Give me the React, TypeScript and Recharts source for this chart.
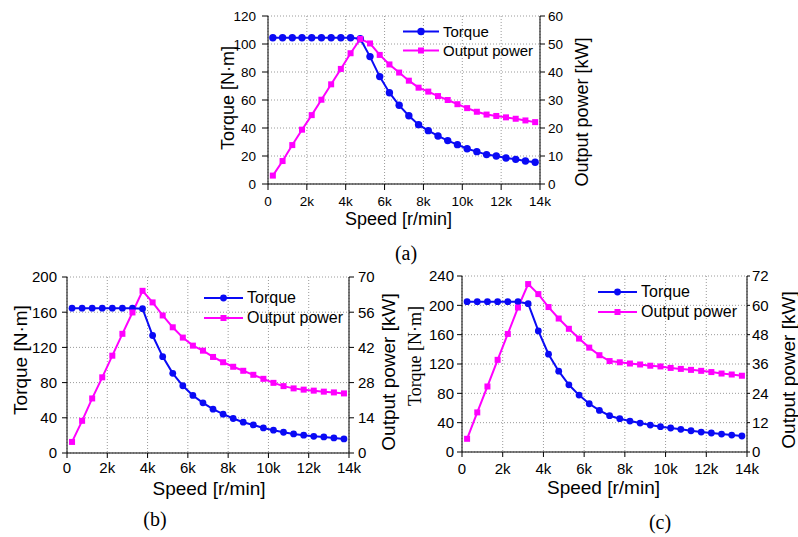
import React from 'react';
import { ComposedChart, Line, XAxis, YAxis, CartesianGrid, Legend } from 'recharts';

const speed = [
	250, 750, 1250, 1750, 2250, 2750, 3250, 3750, 4250, 4750, 5250, 5750, 6250, 6750,
	7250, 7750, 8250, 8750, 9250, 9750, 10250, 10750, 11250, 11750, 12250, 12750, 13250, 13750,
];

const torqueA = [
	104.5, 104.5, 104.5, 104.5, 104.5, 104.5, 104.5, 104.5, 104.5, 103.8, 91, 76.7, 65.2, 56.2,
	48.8, 42.4, 38.1, 34.3, 31, 28.1, 25.2, 23.1, 21, 20, 18.6, 17.6, 16.4, 15.5,
];
const powerA = [
	3, 8.2, 13.9, 19.4, 24.6, 30.1, 35.6, 41.1, 46.7, 51.8, 50.2, 46.1, 42.7, 39.8,
	36.9, 34.4, 33, 31.4, 30, 28.5, 27.1, 25.8, 24.8, 24.3, 23.8, 23.3, 22.7, 22.1,
];

const torqueB = [
	164.6, 164.6, 164.6, 164.6, 164.6, 164.6, 164.6, 164, 133.5, 109.5, 90.5, 76.4, 65.4, 57,
	49.8, 44.1, 39.2, 35, 31.9, 28.5, 25.9, 23.6, 21.7, 20.2, 19, 18.3, 17.1, 16,
];
const powerB = [
	4.4, 12.8, 21.7, 30.1, 38.7, 47.4, 55.9, 64.5, 59.9, 54.7, 50, 45.9, 42.7, 40.7,
	38.2, 36.1, 34.3, 32.7, 31.1, 29.5, 27.9, 26.6, 25.7, 25.2, 24.8, 24.4, 24.1, 23.7,
];

const torqueC = [
	205, 205, 205, 205, 205, 205, 202.3, 165.1, 133.4, 110.2, 91.6, 77.6, 65.8, 56.7,
	49.5, 45.4, 42.2, 39.5, 36.7, 34.5, 32.7, 30.9, 29, 27.2, 25.9, 24.5, 23.1, 21.8,
];
const powerC = [
	5.4, 16.2, 26.8, 37.7, 48.3, 59.1, 68.7, 64.6, 59.3, 54.6, 50.4, 46.4, 42.7, 39.6,
	37.2, 36.7, 36.2, 35.8, 35.3, 35, 34.4, 34, 33.6, 33.2, 32.7, 32.1, 31.7, 31.2,
];

const xTicks = [0, 2000, 4000, 6000, 8000, 10000, 12000, 14000];
const xTickLabels = ['0', '2k', '4k', '6k', '8k', '10k', '12k', '14k'];
const torqueTicksA = [0, 20, 40, 60, 80, 100, 120];
const powerTicksA = [0, 10, 20, 30, 40, 50, 60];
const torqueTicksB = [0, 40, 80, 120, 160, 200];
const powerTicksB = [0, 14, 28, 42, 56, 70];
const torqueTicksC = [0, 40, 80, 120, 160, 200, 240];
const powerTicksC = [0, 12, 24, 36, 48, 60, 72];

const BLUE = '#0a0af5';
const MAGENTA = '#ff00ff';
const SANS = '"Liberation Sans", Arial, sans-serif';
const SERIF = '"Liberation Serif", "Times New Roman", serif';

const buildRows = (torque: number[], power: number[]) =>
	speed.map((s, i) => ({ speed: s, torque: torque[i], power: power[i] }));

const squareDot = (size: number) => (props: any) => {
	const { cx, cy, index } = props;
	return (
		<rect key={`sq-${index}`} x={cx - size / 2} y={cy - size / 2} width={size} height={size} fill={MAGENTA} />
	);
};

function LegendBox({ fontSize, row, lineLen, r, sq }: any) {
	const items = [
		{ label: 'Torque', color: BLUE, kind: 'circle' },
		{ label: 'Output power', color: MAGENTA, kind: 'square' },
	];
	return (
		<div style={{ fontFamily: SANS, fontSize, color: '#000' }}>
			{items.map((it) => (
				<div key={it.label} style={{ display: 'flex', alignItems: 'center', height: row, whiteSpace: 'nowrap' }}>
					<svg width={lineLen} height={row} style={{ display: 'block' }}>
						<line x1={0} y1={row / 2} x2={lineLen} y2={row / 2} stroke={it.color} strokeWidth={2} />
						{it.kind === 'circle' ? (
							<circle cx={lineLen / 2} cy={row / 2} r={r} fill={it.color} />
						) : (
							<rect x={lineLen / 2 - sq / 2} y={row / 2 - sq / 2} width={sq} height={sq} fill={it.color} />
						)}
					</svg>
					<span style={{ marginLeft: 4 }}>{it.label}</span>
				</div>
			))}
		</div>
	);
}

function Panel(p: any) {
	const data = buildRows(p.torque, p.power);
	const tickStyle = { fontSize: p.tickFont, fontFamily: SANS, fill: '#000' };
	return (
		<ComposedChart
			width={p.width}
			height={p.height}
			data={data}
			margin={{ top: p.top, right: 0, left: 0, bottom: 0 }}>
			<CartesianGrid yAxisId="left" stroke="#9a9a9a" strokeDasharray="1 2" />
			<XAxis
				dataKey="speed"
				type="number"
				domain={[0, 14000]}
				ticks={xTicks}
				tickFormatter={(v: number) => xTickLabels[xTicks.indexOf(v)]}
				height={p.xHeight}
				stroke="#000"
				tick={tickStyle}
				tickSize={p.xTick[0]}
				tickMargin={p.xTick[1]}
				interval={0}
				label={{
					value: 'Speed [r/min]',
					position: 'center',
					dx: p.xLabel[0],
					dy: p.xLabel[1],
					style: { fontSize: p.labelFont, fontFamily: SANS, fill: '#000' },
				}}
			/>
			<YAxis
				yAxisId="left"
				domain={p.torqueDomain}
				ticks={p.torqueTicks}
				width={p.leftWidth}
				stroke="#000"
				tick={tickStyle}
				tickSize={p.leftTick[0]}
				tickMargin={p.leftTick[1]}
				interval={0}
				label={{
					value: 'Torque [N·m]',
					angle: -90,
					position: 'center',
					dx: p.leftLabel[0],
					dy: p.leftLabel[1],
					style: { fontSize: p.leftLabelFont, fontFamily: p.leftLabelFamily, fill: '#000' },
				}}
			/>
			<YAxis
				yAxisId="right"
				orientation="right"
				domain={p.powerDomain}
				ticks={p.powerTicks}
				width={p.rightWidth}
				stroke="#000"
				tick={tickStyle}
				tickSize={p.rightTick[0]}
				tickMargin={p.rightTick[1]}
				interval={0}
				label={{
					value: 'Output power [kW]',
					angle: -90,
					position: 'center',
					dx: p.rightLabel[0],
					dy: p.rightLabel[1],
					style: { fontSize: p.labelFont, fontFamily: SANS, fill: '#000' },
				}}
			/>
			<Legend
				layout="vertical"
				align="center"
				verticalAlign="middle"
				wrapperStyle={{ left: p.legend[0], top: p.legend[1], width: 'auto' }}
				content={() => (
					<LegendBox fontSize={p.legendFont} row={p.legendRow} lineLen={p.legendLine} r={p.dotR} sq={p.sq} />
				)}
			/>
			<Line
				yAxisId="left"
				dataKey="torque"
				name="Torque"
				stroke={BLUE}
				strokeWidth={2}
				dot={{ r: p.dotR, fill: BLUE, stroke: BLUE, strokeWidth: 0 }}
				isAnimationActive={false}
			/>
			<Line
				yAxisId="right"
				dataKey="power"
				name="Output power"
				stroke={MAGENTA}
				strokeWidth={2}
				dot={squareDot(p.sq)}
				isAnimationActive={false}
			/>
		</ComposedChart>
	);
}

const caption = (text: string, x: number, y: number) => (
	<div
		style={{
			position: 'absolute',
			left: x - 30,
			top: y - 13,
			width: 60,
			textAlign: 'center',
			fontFamily: SERIF,
			fontSize: 20,
			lineHeight: '26px',
			color: '#000',
		}}>
		{text}
	</div>
);

export default function App() {
	return (
		<div style={{ position: 'absolute', left: 0, top: 0, width: 798, height: 537, background: '#fff', overflow: 'hidden' }}>
			<div style={{ position: 'absolute', left: 200, top: 0 }}>
				<Panel
					width={400}
					height={232}
					top={16}
					xHeight={48}
					leftWidth={68}
					rightWidth={60}
					torque={torqueA}
					power={powerA}
					torqueDomain={[0, 120]}
					torqueTicks={torqueTicksA}
					powerDomain={[0, 60]}
					powerTicks={powerTicksA}
					tickFont={13.5}
					labelFont={18}
					leftLabelFont={18}
					leftLabelFamily={SANS}
					xTick={[6, 6]}
					leftTick={[6, 6]}
					rightTick={[5, 3]}
					xLabel={[-5.5, 11]}
					leftLabel={[-6.5, -2]}
					rightLabel={[11.7, 12]}
					legend={[203, 22]}
					legendFont={15}
					legendRow={19}
					legendLine={36}
					dotR={3.7}
					sq={6}
				/>
			</div>
			<div style={{ position: 'absolute', left: 0, top: 260 }}>
				<Panel
					width={400}
					height={240}
					top={17}
					xHeight={47}
					leftWidth={67}
					rightWidth={51}
					torque={torqueB}
					power={powerB}
					torqueDomain={[0, 200]}
					torqueTicks={torqueTicksB}
					powerDomain={[0, 70]}
					powerTicks={powerTicksB}
					tickFont={15}
					labelFont={19}
					leftLabelFont={19}
					leftLabelFamily={SANS}
					xTick={[5, 4]}
					leftTick={[5, 5]}
					rightTick={[5, 4]}
					xLabel={[1, 12]}
					leftLabel={[-13.5, -5]}
					rightLabel={[13.5, 7]}
					legend={[204, 28]}
					legendFont={16}
					legendRow={20}
					legendLine={39}
					dotR={3.4}
					sq={6}
				/>
			</div>
			<div style={{ position: 'absolute', left: 400, top: 260 }}>
				<Panel
					width={398}
					height={240}
					top={16}
					xHeight={48}
					leftWidth={62}
					rightWidth={51}
					torque={torqueC}
					power={powerC}
					torqueDomain={[0, 240]}
					torqueTicks={torqueTicksC}
					powerDomain={[0, 72]}
					powerTicks={powerTicksC}
					tickFont={15}
					labelFont={19}
					leftLabelFont={18}
					leftLabelFamily={SERIF}
					xTick={[5, 6]}
					leftTick={[5, 3]}
					rightTick={[3, 2]}
					xLabel={[-1, 11]}
					leftLabel={[-16, -8]}
					rightLabel={[15.5, 6]}
					legend={[198, 22]}
					legendFont={16}
					legendRow={20}
					legendLine={39}
					dotR={3.4}
					sq={6}
				/>
			</div>
			{caption('(a)', 406, 253)}
			{caption('(b)', 155, 519)}
			{caption('(c)', 660, 522)}
		</div>
	);
}
